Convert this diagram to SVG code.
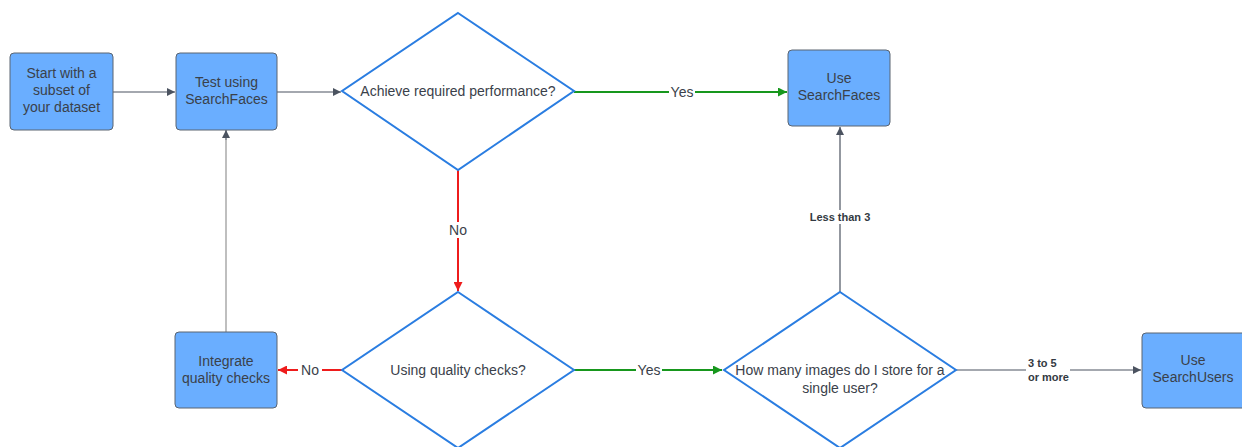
<svg xmlns="http://www.w3.org/2000/svg" width="1242" height="447" viewBox="0 0 1242 447">
  <style>
    .box { fill: #6aaeff; stroke: #5b6470; stroke-width: 1; }
    .dia { fill: #ffffff; stroke: #2a7de1; stroke-width: 2; }
    .t { font-family: "Liberation Sans", Arial, sans-serif; font-size: 14px; fill: #3a414a; text-anchor: middle; }
    .lbl { font-family: "Liberation Sans", Arial, sans-serif; font-size: 14px; fill: #3a414a; text-anchor: middle; }
    .blbl { font-family: "Liberation Sans", Arial, sans-serif; font-size: 11px; font-weight: bold; fill: #333a42; }
    .c-dark { stroke: #4b5360; stroke-width: 1.2; fill: none; }
    .c-grey { stroke: #aaaaaa; stroke-width: 1.5; fill: none; }
    .c-green { stroke: #17971d; stroke-width: 2; fill: none; }
    .c-red { stroke: #ee1c1c; stroke-width: 2; fill: none; }
  </style>
  <defs>
    <marker id="ah-dark" viewBox="0 0 10 10" refX="10" refY="5" markerWidth="10" markerHeight="8" markerUnits="userSpaceOnUse" orient="auto">
      <path d="M0,0 L10,5 L0,10 z" fill="#4b5360"/>
    </marker>
    <marker id="ah-green" viewBox="0 0 10 10" refX="10" refY="5" markerWidth="11" markerHeight="9" markerUnits="userSpaceOnUse" orient="auto">
      <path d="M0,0 L10,5 L0,10 z" fill="#17971d"/>
    </marker>
    <marker id="ah-red" viewBox="0 0 10 10" refX="10" refY="5" markerWidth="11" markerHeight="9" markerUnits="userSpaceOnUse" orient="auto">
      <path d="M0,0 L10,5 L0,10 z" fill="#ee1c1c"/>
    </marker>
  </defs>
  <rect width="1242" height="447" fill="#ffffff"/>

  <g id="connectors">
    <line class="c-dark" x1="113" y1="92" x2="175" y2="92" marker-end="url(#ah-dark)"/>
    <line class="c-dark" x1="277" y1="92" x2="341" y2="92" marker-end="url(#ah-dark)"/>
    <line class="c-green" x1="574" y1="92" x2="787" y2="92" marker-end="url(#ah-green)"/>
    <line class="c-red" x1="458" y1="170" x2="458" y2="291" marker-end="url(#ah-red)"/>
    <line class="c-dark" x1="840" y1="292" x2="840" y2="127" marker-end="url(#ah-dark)"/>
    <line class="c-green" x1="574" y1="370" x2="722" y2="370" marker-end="url(#ah-green)"/>
    <line class="c-red" x1="342" y1="370" x2="278" y2="370" marker-end="url(#ah-red)"/>
    <line class="c-dark" x1="956" y1="370" x2="1141" y2="370" marker-end="url(#ah-dark)"/>
    <line class="c-grey" x1="226" y1="332" x2="226" y2="140"/>
    <line class="c-dark" x1="226" y1="140" x2="226" y2="130" marker-end="url(#ah-dark)"/>

    <!-- edge labels on white backing -->
    <rect x="669" y="84" width="26" height="16" fill="#ffffff"/>
    <text class="lbl" x="682" y="97">Yes</text>
    <rect x="446" y="222" width="24" height="16" fill="#ffffff"/>
    <text class="lbl" x="458" y="235">No</text>
    <rect x="806" y="210" width="68" height="14" fill="#ffffff"/>
    <text class="blbl" x="840" y="221" text-anchor="middle">Less than 3</text>
    <rect x="636" y="362" width="26" height="16" fill="#ffffff"/>
    <text class="lbl" x="649" y="375">Yes</text>
    <rect x="298" y="362" width="24" height="16" fill="#ffffff"/>
    <text class="lbl" x="310" y="375">No</text>
    <rect x="1026" y="355" width="44" height="30" fill="#ffffff"/>
    <text class="blbl" x="1028" y="367">3 to 5</text>
    <text class="blbl" x="1028" y="381">or more</text>
  </g>

  <g id="start">
    <rect class="box" x="10" y="53" width="103" height="77" rx="4"/>
    <text class="t" x="61.5" y="78">Start with a</text>
    <text class="t" x="61.5" y="95">subset of</text>
    <text class="t" x="61.5" y="112">your dataset</text>
  </g>

  <g id="test-searchfaces">
    <rect class="box" x="176" y="53" width="101" height="77" rx="4"/>
    <text class="t" x="226.5" y="87">Test using</text>
    <text class="t" x="226.5" y="104">SearchFaces</text>
  </g>

  <g id="achieve-performance">
    <polygon class="dia" points="458,13 574,91 458,170 342,91"/>
    <text class="t" x="458" y="96">Achieve required performance?</text>
  </g>

  <g id="use-searchfaces">
    <rect class="box" x="788" y="50" width="102" height="76" rx="4"/>
    <text class="t" x="839" y="83">Use</text>
    <text class="t" x="839" y="100">SearchFaces</text>
  </g>

  <g id="quality-checks">
    <polygon class="dia" points="458,292 574,370 458,448 342,370"/>
    <text class="t" x="458" y="375">Using quality checks?</text>
  </g>

  <g id="integrate-checks">
    <rect class="box" x="175" y="332" width="102" height="76" rx="4"/>
    <text class="t" x="226" y="366">Integrate</text>
    <text class="t" x="226" y="383">quality checks</text>
  </g>

  <g id="images-per-user">
    <polygon class="dia" points="840,292 956,370 840,448 724,370"/>
    <text class="t" x="840" y="375">How many images do I store for a</text>
    <text class="t" x="840" y="393">single user?</text>
  </g>

  <g id="use-searchusers">
    <rect class="box" x="1142" y="333" width="104" height="75" rx="4"/>
    <text class="t" x="1193" y="365">Use</text>
    <text class="t" x="1193" y="382">SearchUsers</text>
  </g>
</svg>
